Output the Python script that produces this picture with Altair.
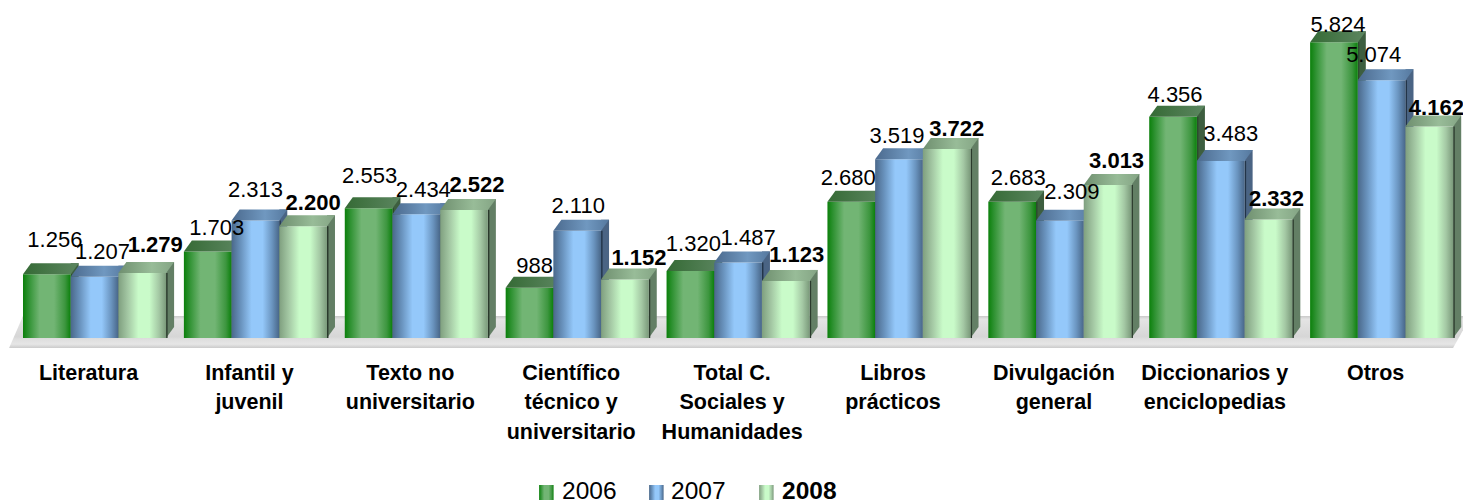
import altair as alt
import pandas as pd

categories = ["Literatura", "Infantil y\njuvenil", "Texto no\nuniversitario",
              "Científico\ntécnico y\nuniversitario", "Total C.\nSociales y\nHumanidades",
              "Libros\nprácticos", "Divulgación\ngeneral", "Diccionarios y\nenciclopedias", "Otros"]
series = ["2006", "2007", "2008"]
v2006 = [1256, 1703, 2553, 988, 1320, 2680, 2683, 4356, 5824]
v2007 = [1207, 2313, 2434, 2110, 1487, 3519, 2309, 3483, 5074]
v2008 = [1279, 2200, 2522, 1152, 1123, 3722, 3013, 2332, 4162]

# hand placement of the data labels in the original, in pixels from the bar's centre / top
nudge_x = {"2006": [8, 9, 1, 5, 3, -3, 6, 2, 4],
           "2007": [8, 0, 7, 1, 10, -2, 12, 10, -8],
           "2008": [13, 10, 13, 14, 11, 10, 9, 8, 7]}
nudge_y = {"2006": [27, 16, 25, 15, 20, 17, 17, 15, 10],
           "2007": [18, 23, 17, 18, 17, 16, 22, 20, 18],
           "2008": [21, 16, 18, 14, 19, 13, 17, 14, 12]}

PLOT_W, PLOT_H, Y_MAX = 1448, 304.8, 6000
PX = PLOT_H / Y_MAX
DX, DY, HALF = 8, 11, 23.85
FONT = "Liberation Sans"

def fmt(v):
    return f"{v:,}".replace(",", ".")

rows = []
for k, (s, vals) in enumerate(zip(series, [v2006, v2007, v2008])):
    for i, (c, v) in enumerate(zip(categories, vals)):
        right = HALF * (2 * k + 2)
        rows.append(dict(cat=c, series=s, value=v, label=fmt(v),
                         dx=HALF * (2 * k + 1) + nudge_x[s][i],
                         side_dx=right + DX / 2, edge_dx=right + 0.75,
                         back_top=v + DY / PX, back_base=DY / PX,
                         label_y=v + nudge_y[s][i] / PX))
df = pd.DataFrame(rows)


def hgrad(stops):
    return alt.Gradient(gradient="linear", x1=0, x2=1, y1=0, y2=0,
                        stops=[alt.GradientStop(offset=o, color=c) for o, c in stops])


front = {
    "2006": [(0, "#0b800b"), (0.12, "#2f9232"), (0.35, "#72b574"), (0.65, "#72b574"), (0.88, "#3d963f"), (1, "#0b800b")],
    "2007": [(0, "#4a688a"), (0.2, "#6a94bf"), (0.42, "#94c8fa"), (0.65, "#94c8fa"), (0.85, "#6a94bf"), (1, "#486688")],
    "2008": [(0, "#7f9f7f"), (0.2, "#a4c8a4"), (0.42, "#c9fbc9"), (0.65, "#c9fbc9"), (0.85, "#a4c8a4"), (1, "#7a997a")],
}
top = {
    "2006": [(0, "#356a35"), (1, "#5c8660")],
    "2007": [(0, "#4b6a8e"), (0.6, "#7098c0"), (1, "#55789e")],
    "2008": [(0, "#6f8f6f"), (0.6, "#98bc98"), (1, "#84a484")],
}
side_col = {"2006": "#3d5e3f", "2007": "#4a6484", "2008": "#637f65"}
edge_col = {"2006": "#2c4a2e", "2007": "#223448", "2008": "#2a3a2c"}

x_enc = alt.X("cat:N", sort=categories,
              scale=alt.Scale(paddingInner=0.1106, paddingOuter=0.0553, round=False),
              axis=alt.Axis(title=None, domain=False, ticks=False, labelAngle=0,
                            labelExpr="split(datum.label, '\\n')", labelFont=FONT,
                            labelFontSize=21.5, labelFontWeight="bold", labelColor="#000000",
                            labelBaseline="top", labelPadding=24, labelLineHeight=29.5,
                            labelOffset=-6, labelLimit=400, labelOverlap=False, grid=False))
off_enc = alt.XOffset("series:N", sort=series, scale=alt.Scale(domain=series, round=False))
y_scale = alt.Scale(domain=[0, Y_MAX], nice=False)
y_enc = alt.Y("value:Q", scale=y_scale, axis=None)

layers = []

floor_shape = "M8.9,-22 L1456.9,-22 L1439,10 L-5,10 Z"
floor_grad = alt.Gradient(gradient="linear", x1=0, x2=0, y1=0, y2=1, stops=[
    alt.GradientStop(offset=0, color="#c9c9c9"), alt.GradientStop(offset=0.1, color="#e4e4e4"),
    alt.GradientStop(offset=0.65, color="#d6d6d6"), alt.GradientStop(offset=0.72, color="#dedede"),
    alt.GradientStop(offset=0.88, color="#e6e6e6"), alt.GradientStop(offset=1, color="#cbcbcb")])
layers.append(alt.Chart(pd.DataFrame({"value": [0]})).mark_point(
    filled=True, shape=floor_shape, size=4, fill=floor_grad, opacity=1, strokeWidth=0
).encode(x=alt.value(0), y=y_enc))

for s in series:
    d = df[df.series == s]
    base = alt.Chart(d).encode(x=x_enc, xOffset=off_enc, y=y_enc)
    # side face: a wide rule behind the front, then its dark front edge
    layers.append(alt.Chart(d).mark_rule(strokeWidth=DX, color=side_col[s]).encode(
        x=x_enc, xOffset=alt.XOffset("side_dx:Q", scale=None),
        y=alt.Y("back_top:Q", scale=y_scale, axis=None), y2="back_base:Q"))
    foot = f"M{HALF},0 L{HALF + DX},{-DY} L{HALF},{-DY} Z"
    layers.append(alt.Chart(d).transform_calculate(zero="0").mark_point(
        filled=True, shape=foot, size=4, fill=side_col[s], opacity=1, strokeWidth=0
    ).encode(x=x_enc, xOffset=off_enc, y=alt.Y("zero:Q", scale=y_scale, axis=None)))
    layers.append(alt.Chart(d).transform_calculate(zero="0").mark_rule(strokeWidth=1.5, color=edge_col[s]).encode(
        x=x_enc, xOffset=alt.XOffset("edge_dx:Q", scale=None),
        y=y_enc, y2="zero:Q"))
    layers.append(base.mark_bar(fill=hgrad(front[s])))
    roof = f"M{-HALF},0 L{-HALF + DX},{-DY} L{HALF + DX},{-DY} L{HALF},0 Z"
    layers.append(base.mark_point(filled=True, shape=roof, size=4, fill=hgrad(top[s]), opacity=1, strokeWidth=0))

for s in series:
    d = df[df.series == s]
    layers.append(alt.Chart(d).mark_text(
        font=FONT, fontSize=22, fontWeight="bold" if s == "2008" else "normal",
        color="#000000", baseline="alphabetic", align="center"
    ).encode(x=x_enc, xOffset=alt.XOffset("dx:Q", scale=None),
             y=alt.Y("label_y:Q", scale=y_scale, axis=None),
             text="label:N"))

# legend, drawn by hand because only its last entry is bold
legend_x = [525, 635, 745]
legend_tx = [548, 657, 768]
for s, lx, tx in zip(series, legend_x, legend_tx):
    layers.append(alt.Chart(pd.DataFrame({"series": [s]})).mark_bar(fill=hgrad(front[s])).encode(
        x=alt.value(lx), x2=alt.value(lx + 14.5), y=alt.value(451.8), y2=alt.value(466.8)))
    layers.append(alt.Chart(pd.DataFrame({"series": [s]})).mark_text(
        font=FONT, fontSize=24.5, fontWeight="bold" if s == "2008" else "normal", color="#000000",
        align="left", baseline="alphabetic", text=s
    ).encode(x=alt.value(tx), y=alt.value(465.8)))

chart = alt.layer(*layers).resolve_scale(x="shared", y="shared").properties(
    width=PLOT_W, height=PLOT_H,
    autosize=alt.AutoSizeParams(type="none"),
    padding={"left": 6.1, "top": 25.2, "right": 0.9, "bottom": 165},
    background="white",
).configure_view(stroke=None)

chart.save("out.html", embed_options={"renderer": "svg", "actions": False})
